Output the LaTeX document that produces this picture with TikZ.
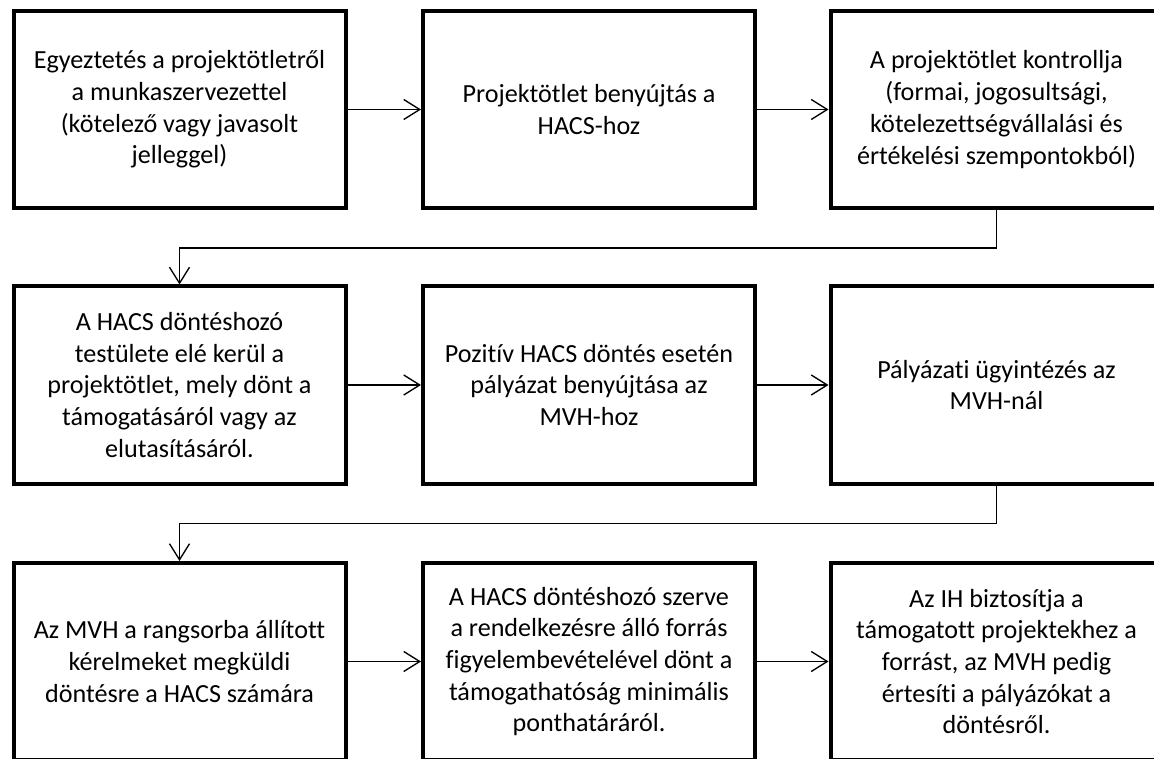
\documentclass[tikz,border=0pt]{standalone}
\usepackage{fontspec}
\setmainfont{Carlito}[Ligatures=NoCommon]
\usetikzlibrary{arrows.meta}
\begin{document}
\begin{tikzpicture}[x=0.75pt,y=-0.75pt,
  box/.style={draw, line width=3pt, rectangle, minimum width=249pt, minimum height=147.75pt,
    align=center, inner sep=0pt, font=\fontsize{19.6}{23.8}\selectfont},
  conn/.style={line width=1pt, -{Straight Barb[length=12pt,width=15pt]}}]
\useasboundingbox (0,0) rectangle (1154,759);
\clip (0,0) rectangle (1154,759);
% row 1
\node[box] (b1) at (179.5,109.5) {Egyeztetés a projektötletről\\a munkaszervezettel\\(kötelező vagy javasolt\\jelleggel)};
\node[box] (b2) at (589,109.5) {Projektötlet benyújtás a\\HACS-hoz};
\node[box] (b3) at (996.5,109.5) {A projektötlet kontrollja\\(formai, jogosultsági,\\kötelezettségvállalási és\\értékelési szempontokból)};
% row 2
\node[box] (b4) at (179.5,385) {A HACS döntéshozó\\testülete elé kerül a\\projektötlet, mely dönt a\\támogatásáról vagy az\\elutasításáról.};
\node[box] (b5) at (589,385) {Pozitív HACS döntés esetén\\pályázat benyújtása az\\MVH-hoz};
\node[box] (b6) at (996.5,385) {Pályázati ügyintézés az\\MVH-nál};
% row 3
\node[box] (b7) at (179.5,661.5) {Az MVH a rangsorba állított\\kérelmeket megküldi\\döntésre a HACS számára};
\node[box] (b8) at (589,661.5) {A HACS döntéshozó szerve\\a rendelkezésre álló forrás\\figyelembevételével dönt a\\támogathatóság minimális\\ponthatáráról.};
\node[box] (b9) at (996.5,661.5) {Az IH biztosítja a\\támogatott projektekhez a\\forrást, az MVH pedig\\értesíti a pályázókat a\\döntésről.};
% connectors
\draw[conn] (b1.east) -- (b2.west);
\draw[conn] (b2.east) -- (b3.west);
\draw[conn] (b3.south) -- ++(0,38) -| (b4.north);
\draw[conn] (b4.east) -- (b5.west);
\draw[conn] (b5.east) -- (b6.west);
\draw[conn] (b6.south) -- ++(0,38) -| (b7.north);
\draw[conn] (b7.east) -- (b8.west);
\draw[conn] (b8.east) -- (b9.west);
\end{tikzpicture}
\end{document}
